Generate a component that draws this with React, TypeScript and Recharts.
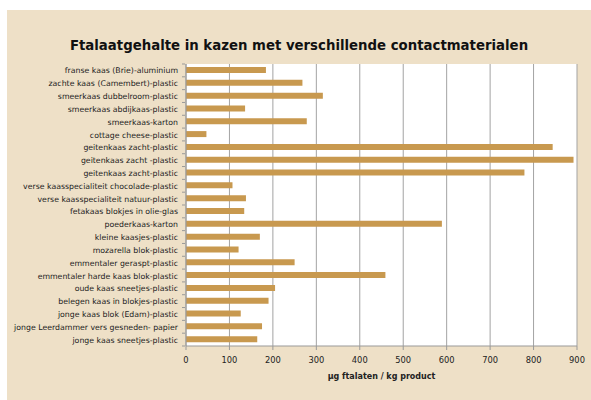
import { BarChart, Bar, XAxis, YAxis, CartesianGrid } from "recharts"

const categories = [
  "franse kaas (Brie)-aluminium",
  "zachte kaas (Camembert)-plastic",
  "smeerkaas dubbelroom-plastic",
  "smeerkaas abdijkaas-plastic",
  "smeerkaas-karton",
  "cottage cheese-plastic",
  "geitenkaas zacht-plastic",
  "geitenkaas zacht -plastic",
  "geitenkaas zacht-plastic ",
  "verse kaasspecialiteit chocolade-plastic",
  "verse kaasspecialiteit natuur-plastic",
  "fetakaas blokjes in olie-glas",
  "poederkaas-karton",
  "kleine kaasjes-plastic",
  "mozarella blok-plastic",
  "emmentaler geraspt-plastic",
  "emmentaler harde kaas blok-plastic",
  "oude kaas sneetjes-plastic",
  "belegen kaas in blokjes-plastic",
  "jonge kaas blok (Edam)-plastic",
  "jonge Leerdammer vers gesneden- papier",
  "jonge kaas sneetjes-plastic",
]

const ftalaten = [184, 268, 315, 136, 278, 47, 844, 892, 779, 107, 138, 134, 589, 170, 121, 250, 459, 205, 190, 126, 175, 164]

const xTicks = [0, 100, 200, 300, 400, 500, 600, 700, 800, 900]

const data = categories.map((name, i) => ({ name, value: ftalaten[i] }))

const W = 584
const H = 390
const TOP = 54
const BOTTOM = 54
const BAND = (H - TOP - BOTTOM) / categories.length

const CategoryTick = (props: any) => {
  const { x, y, payload, index } = props
  const top = y - BAND / 2
  return (
    <g>
      <line x1={x + 4} x2={x + 7} y1={top} y2={top} stroke="#999" />
      {index === categories.length - 1 && (
        <line x1={x + 4} x2={x + 7} y1={top + BAND} y2={top + BAND} stroke="#999" />
      )}
      <text x={x} y={y} dy={3} textAnchor="end" fontSize={7.8} fill="#222" fontFamily="DejaVu Sans">
        {payload.value.trim()}
      </text>
    </g>
  )
}

export default function App() {
  return (
    <div style={{ position: "absolute", left: 0, top: 0, width: 591, height: 400, background: "#fff" }}>
      <div style={{ position: "absolute", left: 7, top: 10, width: W, height: H, background: "#eee0c7" }}>
        <div
          style={{
            position: "absolute",
            left: 0,
            top: 28,
            width: W,
            textAlign: "center",
            fontFamily: "DejaVu Sans",
            fontWeight: "bold",
            fontSize: 13.3,
            color: "#111",
          }}
        >
          Ftalaatgehalte in kazen met verschillende contactmaterialen
        </div>
        <BarChart
          width={W}
          height={H}
          data={data}
          layout="vertical"
          margin={{ top: TOP, right: 14, left: 0, bottom: BOTTOM - 20 }}
          barSize={6}
        >
          <CartesianGrid horizontal={false} stroke="#a3a3a3" fill="#fff" />
          <XAxis
            type="number"
            domain={[0, 900]}
            ticks={xTicks}
            height={20}
            tick={{ fontSize: 8.3, fill: "#222", fontFamily: "DejaVu Sans" }}
            axisLine={{ stroke: "#999" }}
            tickLine={{ stroke: "#999" }}
            tickSize={4}
            tickMargin={7}
            label={{
              value: "µg ftalaten / kg product",
              position: "insideBottom",
              offset: -13,
              fontSize: 8,
              fontWeight: "bold",
              fill: "#222",
              fontFamily: "DejaVu Sans",
            }}
          />
          <YAxis
            type="category"
            dataKey="name"
            width={179}
            interval={0}
            tick={<CategoryTick />}
            tickLine={false}
            axisLine={{ stroke: "#999" }}
          />
          <Bar dataKey="value" fill="#c8994f" isAnimationActive={false} />
        </BarChart>
      </div>
    </div>
  )
}
